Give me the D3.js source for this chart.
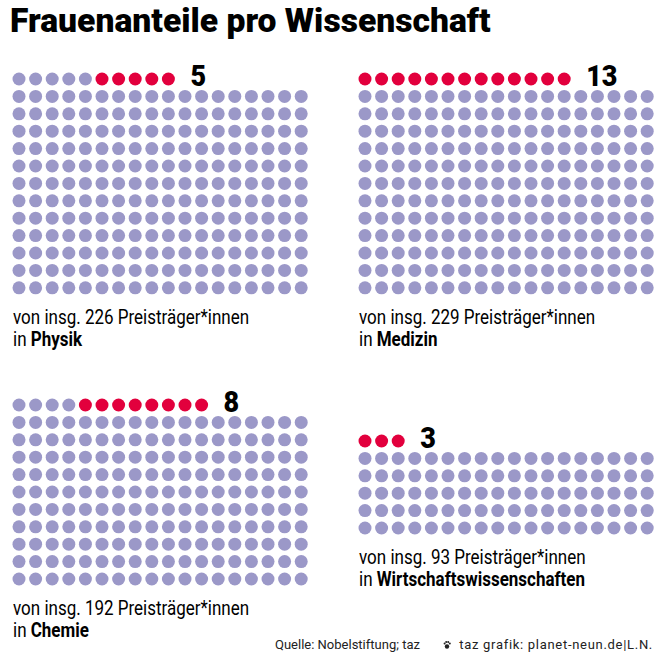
<!DOCTYPE html>
<html>
<head>
<meta charset="utf-8">
<script src="https://cdn.jsdelivr.net/npm/d3@7.9.0/dist/d3.min.js"></script>
<style>
  html, body { margin: 0; padding: 0; background: #fff; }
  svg { display: block; font-family: Roboto, "Liberation Sans", sans-serif; }
</style>
</head>
<body>
<div id="chart"></div>
<script>
// data
const fields = ['Physik', 'Medizin', 'Chemie', 'Wirtschaftswissenschaften'];
const totals = [226, 229, 192, 93];
const women = [5, 13, 8, 3];

const title = 'Frauenanteile pro Wissenschaft';
const source = 'Quelle: Nobelstiftung; taz';
const credit = 'taz grafik: planet-neun.de|L.N.';

// layout
const width = 665, height = 665;
const cols = 18;
const dx = 16.6, dy = 17.4, r = 6.5;
const panelPos = [
  { x: 19, y: 79 },
  { x: 365, y: 79 },
  { x: 19, y: 405 },
  { x: 365, y: 441 }
];
const squeeze = 0.85;
const grey = '#9b98c8';
const red = '#e2003d';

const svg = d3.select('#chart')
  .append('svg')
  .attr('width', width)
  .attr('height', height);

// condensed text helper
function ctext(parent, x, y, size, weight, sx) {
  const g = parent.append('g').attr('transform', `translate(${x},${y}) scale(${sx},1)`);
  return g.append('text')
    .attr('font-size', size)
    .attr('font-weight', weight)
    .attr('fill', '#000');
}

ctext(svg, 10, 32, 33, 900, 1.02).text(title);

fields.forEach((field, k) => {
  const total = totals[k];
  const w = women[k];
  const full = Math.floor(total / cols);
  const rest = total - full * cols;

  const xScale = d3.scaleLinear().domain([0, cols - 1]).range([0, (cols - 1) * dx]);
  const yScale = d3.scaleLinear().domain([0, full]).range([0, full * dy]);

  const dots = d3.range(total).map(i => {
    if (i < rest) return { col: i, row: 0, red: i >= rest - w };
    const j = i - rest;
    return { col: j % cols, row: 1 + Math.floor(j / cols), red: false };
  });

  const g = svg.append('g')
    .attr('transform', `translate(${panelPos[k].x},${panelPos[k].y})`);

  g.selectAll('circle')
    .data(dots)
    .join('circle')
    .attr('cx', d => xScale(d.col))
    .attr('cy', d => yScale(d.row))
    .attr('r', r)
    .attr('fill', d => d.red ? red : grey);

  // count label after last top-row dot
  ctext(g, xScale(rest - 1) + 22, 7, 30, 900, 0.9).text(w);

  const bottom = yScale(full);
  ctext(g, -6, bottom + 36, 20, 400, squeeze)
    .text(`von insg. ${total} Preisträger*innen`);
  const t = ctext(g, -6, bottom + 58, 20, 400, squeeze);
  t.append('tspan').text('in ');
  t.append('tspan').attr('font-weight', 700).text(field);
});

ctext(svg, 275, 649, 13, 400, 1.0).attr('fill', '#222').text(source);
ctext(svg, 653, 649, 13, 400, 1.0).attr('fill', '#222')
  .attr('text-anchor', 'end').attr('letter-spacing', 0.7).text(credit);
// small paw icon
svg.append('g').attr('transform', 'translate(447,645)')
  .selectAll('circle')
  .data([[0, 1.5, 2.2], [-2.4, -1.5, 1], [-0.8, -3, 1], [1.2, -3, 1], [2.8, -1.4, 1]])
  .join('circle')
  .attr('cx', d => d[0]).attr('cy', d => d[1]).attr('r', d => d[2]).attr('fill', '#222');
</script>
</body>
</html>
